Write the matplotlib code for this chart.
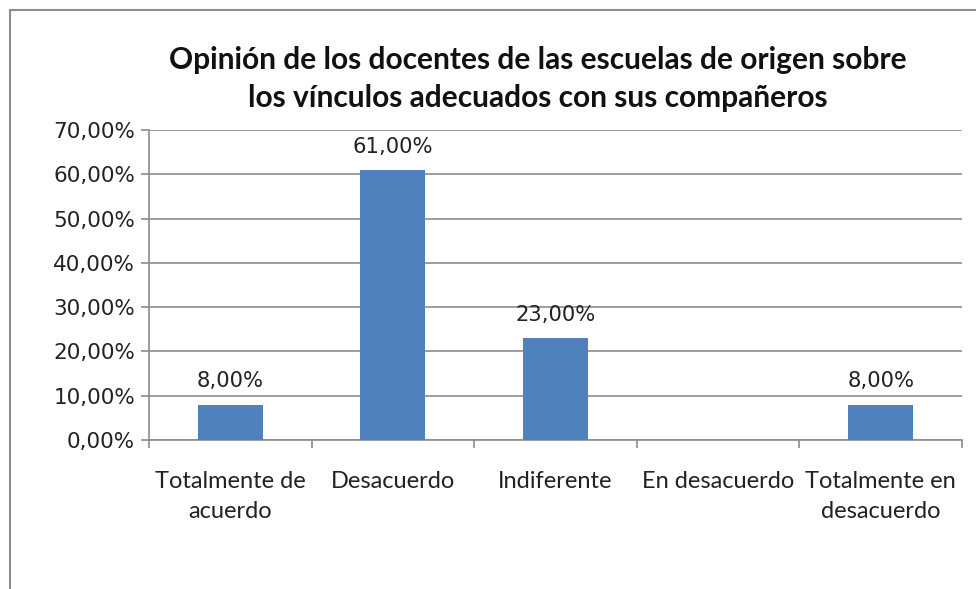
import matplotlib
matplotlib.use("Agg")
import matplotlib.pyplot as plt
from matplotlib.patches import Rectangle
from matplotlib.ticker import FuncFormatter, FixedLocator, MultipleLocator

categories = ["Totalmente de\nacuerdo", "Desacuerdo", "Indiferente", "En desacuerdo", "Totalmente en\ndesacuerdo"]
values = [8.0, 61.0, 23.0, 0.0, 8.0]
title = "Opinión de los docentes de las escuelas de origen sobre\nlos vínculos adecuados con sus compañeros"

def pct(v):
    return f"{v:.2f}".replace(".", ",") + "%"

fig = plt.figure(figsize=(9.76, 5.89), dpi=100)
ax = fig.add_axes([149/976, 1-440/589, (962-149)/976, (440-130)/589])

x = list(range(len(categories)))
bars = ax.bar(x, values, width=0.4, color="#4F81BD", zorder=3)
for xi, v in zip(x, values):
    if v > 0:
        ax.text(xi, v + 3.0, pct(v), ha="center", va="bottom", fontsize=15.2,
                family="DejaVu Sans", color="#222222")

ax.set_xlim(-0.5, len(categories) - 0.5)
ax.set_ylim(0, 70)
ax.yaxis.set_major_locator(MultipleLocator(10))
ax.yaxis.set_major_formatter(FuncFormatter(lambda v, p: pct(v)))
ax.grid(axis="y", color="#8c8c8c", linewidth=1.2, zorder=0)
ax.set_xticks(x)
ax.set_xticklabels(categories, fontsize=17, family="Lato", color="#222222", linespacing=1.55)
ax.xaxis.set_minor_locator(FixedLocator([i - 0.5 for i in range(len(categories) + 1)]))
ax.tick_params(axis="x", which="major", length=0, pad=22)
ax.tick_params(axis="x", which="minor", length=6, color="#8c8c8c", width=1.2)
ax.tick_params(axis="y", length=6, color="#8c8c8c", width=1.2, labelsize=15.5, labelcolor="#222222", pad=4)
for lab in ax.get_yticklabels():
    lab.set_family("DejaVu Sans")
for s in ["top", "right"]:
    ax.spines[s].set_visible(False)
for s in ["left", "bottom"]:
    ax.spines[s].set_color("#8c8c8c")
    ax.spines[s].set_linewidth(1.2)

fig.text(538/976, 1 - 79/589, title, ha="center", va="center", fontsize=21.5,
         family="Lato", fontweight="bold", color="#111111", linespacing=1.4)

fig.patches.append(Rectangle((10/976, -0.1), 1.2, 1 - 10/589 + 0.1, transform=fig.transFigure,
                             fill=False, edgecolor="#8c8c8c", linewidth=1.5))

fig.savefig("out.png", dpi=100)
